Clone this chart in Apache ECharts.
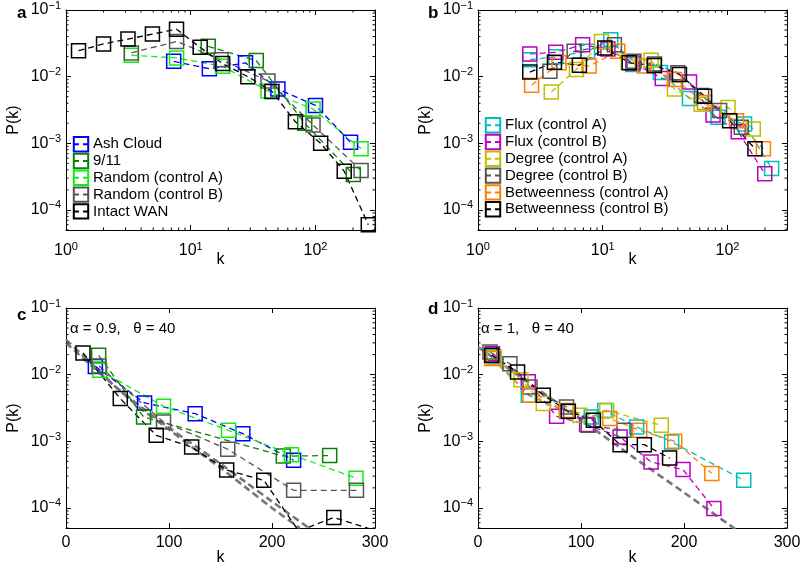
<!DOCTYPE html>
<html>
<head>
<meta charset="utf-8">
<script src="https://cdn.jsdelivr.net/npm/echarts@6/dist/echarts.min.js"></script>
<style>
html, body { margin: 0; padding: 0; background: #fff; }
#main { width: 803px; height: 569px; }
</style>
</head>
<body>
<div id="main"></div>
<script>
// ---- panel a : degree distributions, log-log ----
var aAshK = [7.3, 14.1, 27.5, 50, 100, 191];
var aAshP = [0.017, 0.0131, 0.0161, 0.0065, 0.0037, 0.00104];
var a911K = [13.8, 33.5, 82, 201];
var a911P = [0.0285, 0.0174, 0.002, 0.00034];
var aRandAK = [3.34, 7.7, 18, 41.6, 95.6, 232];
var aRandAP = [0.021, 0.0191, 0.0143, 0.0061, 0.00326, 0.00083];
var aRandBK = [3.34, 7.7, 17.5, 41.6, 95.6, 232];
var aRandBP = [0.0227, 0.0338, 0.018, 0.0086, 0.00188, 0.00039];
var aWanK = [1.26, 2.0, 3.14, 4.93, 7.69, 11.9, 18.0, 28.7, 44.8, 69, 110, 170, 265];
var aWanP = [0.0245, 0.031, 0.0366, 0.0435, 0.0516, 0.0275, 0.0157, 0.010, 0.006, 0.0021, 0.001, 0.00038, 0.00006];

// ---- panel b ----
var bFluxAK = [2.6, 4.2, 7.55, 11.6, 17.4, 29, 49.6, 84, 137, 226];
var bFluxAP = [0.018, 0.0198, 0.024, 0.0358, 0.0152, 0.0115, 0.0047, 0.00245, 0.00195, 0.00042];
var bFluxBK = [2.6, 4.2, 6.9, 11, 17.5, 30, 49.6, 76.6, 122, 199];
var bFluxBP = [0.0219, 0.0232, 0.030, 0.026, 0.016, 0.0094, 0.0083, 0.00265, 0.00149, 0.00035];
var bDegAK = [3.87, 6.15, 9.78, 16, 24.4, 37.6, 61.6, 101, 161];
var bDegAP = [0.0059, 0.0128, 0.0337, 0.0165, 0.0176, 0.0065, 0.00386, 0.00344, 0.00164];
var bDegBK = [3.77, 5.9, 12.4, 17.8, 26, 40, 62, 86.5, 129];
var bDegBP = [0.0121, 0.024, 0.030, 0.017, 0.0155, 0.0114, 0.0052, 0.0031, 0.00174];
var bBetAK = [2.69, 4.46, 7.78, 13.2, 21.5, 37.6, 65.5, 118, 194];
var bBetAP = [0.0074, 0.0161, 0.0144, 0.024, 0.0144, 0.0091, 0.0041, 0.00218, 0.00083];
var bBetBK = [2.6, 4.1, 6.5, 10.4, 16.3, 25.9, 41.2, 65.5, 104, 166];
var bBetBP = [0.0117, 0.0164, 0.0148, 0.0269, 0.0161, 0.0147, 0.0108, 0.0051, 0.00218, 0.00083];

// ---- panel c : semi-log ----
var cAshK = [28.5, 76.3, 125.4, 171.7, 221];
var cAshP = [0.0133, 0.00376, 0.0026, 0.0013, 0.00052];
var c911K = [31.7, 75.3, 211, 256];
var c911P = [0.0195, 0.00232, 0.0006, 0.00061];
var cRandAK = [32.7, 94.7, 157.8, 219, 281.6];
var cRandAP = [0.0116, 0.00335, 0.00146, 0.00063, 0.00028];
var cRandBK = [32, 94.7, 157, 221, 282];
var cRandBP = [0.0135, 0.00195, 0.00076, 0.000184, 0.000184];
var cWanK = [16.5, 52.7, 87.6, 122, 156, 192, 226, 260, 300];
var cWanP = [0.0211, 0.00437, 0.00123, 0.00082, 0.00037, 0.00026, 0.000045, 0.000072, 0.000046];
var cFit1K = [0, 25, 50, 75, 100, 125, 150, 175, 200, 227];
var cFit1P = [0.0335, 0.0145, 0.0062, 0.0029, 0.0015, 0.00076, 0.0004, 0.0002, 0.0001, 0.00005];
var cFit2K = [0, 25, 50, 75, 100, 125, 150, 175, 200, 240];
var cFit2P = [0.030, 0.0135, 0.0062, 0.0031, 0.0016, 0.00086, 0.00046, 0.00024, 0.000125, 0.000045];

// ---- panel d ----
var dFluxAK = [15, 48.8, 86, 110, 123, 154, 188, 258];
var dFluxAP = [0.0185, 0.0049, 0.0028, 0.00232, 0.0029, 0.00164, 0.00098, 0.00026];
var dFluxBK = [14, 48.8, 76.3, 105.4, 138, 168, 199, 229];
var dFluxBP = [0.0205, 0.0078, 0.00237, 0.00178, 0.00116, 0.00049, 0.000376, 0.000098];
var dDegAK = [16, 41.7, 63.4, 99, 125, 178];
var dDegAP = [0.018, 0.0084, 0.0037, 0.00245, 0.0029, 0.00174];
var dDegBK = [11.6, 31, 50.5, 86, 107, 141.7];
var dDegBP = [0.0219, 0.0146, 0.0065, 0.00327, 0.00174, 0.00146];
var dBetAK = [13.2, 50.5, 86, 128, 157, 191, 227];
var dBetAP = [0.0174, 0.0049, 0.0029, 0.00219, 0.00146, 0.001, 0.00033];
var dBetBK = [13.2, 38.4, 63.4, 87.7, 112, 138, 161.5, 186];
var dBetBP = [0.0195, 0.011, 0.0049, 0.00282, 0.00207, 0.00089, 0.00089, 0.00056];
var dFitK = [0, 50, 100, 150, 200, 250];
var dFitP = [0.026, 0.0074, 0.0021, 0.00059, 0.00017, 0.000048];

// minor tick positions for the log axes
var minorK = [2, 3, 4, 5, 6, 7, 8, 9, 20, 30, 40, 50, 60, 70, 80, 90, 200, 300];
var minorP = [0.00005, 0.00006, 0.00007, 0.00008, 0.00009,
  0.0002, 0.0003, 0.0004, 0.0005, 0.0006, 0.0007, 0.0008, 0.0009,
  0.002, 0.003, 0.004, 0.005, 0.006, 0.007, 0.008, 0.009,
  0.02, 0.03, 0.04, 0.05, 0.06, 0.07, 0.08, 0.09];

var FONT = "'Liberation Sans', Arial, Helvetica, sans-serif";
var cBlue = '#0000ff', cDkGreen = '#0b800b', cGreen = '#11ee11', cGray = '#555555', cBlack = '#000000';
var cCyan = '#00bfbf', cMag = '#bf00bf', cOlive = '#bfbf00', cOrange = '#ff8000', cFit = '#777777';

var myChart = echarts.init(document.getElementById('main'));

function pts(k, p) {
    return k.map(function (v, i) { return [v, p[i]]; });
}

function supLabel(v) {
    var e = Math.round(Math.log(v) / Math.LN10);
    var s = e < 0 ? '\u2212' + (-e) : '' + e;
    return '{b|10}{s|' + s + '}';
}

var rich = {
    b: { fontSize: 16, lineHeight: 20, color: '#000', fontFamily: FONT },
    s: { fontSize: 11, lineHeight: 8, verticalAlign: 'top', color: '#000', fontFamily: FONT }
};

var grids = [
    { left: 66, top: 10, width: 309, height: 220 },
    { left: 478, top: 10, width: 309, height: 220 },
    { left: 66, top: 308, width: 309, height: 220 },
    { left: 478, top: 308, width: 309, height: 220 }
];
grids.forEach(function (g) { g.outerBoundsMode = 'none'; g.containLabel = false; });

function axisBase(pos, showLabel) {
    return {
        position: pos,
        axisLine: { show: true, onZero: false, lineStyle: { color: '#000', width: 1 } },
        axisTick: { show: true, inside: true, length: 5, lineStyle: { color: '#000', width: 1 } },
        splitLine: { show: false },
        minorTick: { show: false },
        axisLabel: { show: showLabel },
        nameMoveOverlap: false,
        nameTextStyle: { fontSize: 16, color: '#000', fontFamily: FONT }
    };
}

var xAxes = [], yAxes = [];
[0, 1, 2, 3].forEach(function (g) {
    var isLog = g < 2;
    ['bottom', 'top'].forEach(function (pos) {
        var ax = axisBase(pos, pos === 'bottom');
        ax.gridIndex = g;
        if (isLog) {
            ax.type = 'log'; ax.logBase = 10; ax.min = 1; ax.max = 300;
            ax.axisLabel = { show: pos === 'bottom', margin: 11, formatter: supLabel, rich: rich, showMaxLabel: false };
        } else {
            ax.type = 'value'; ax.min = 0; ax.max = 300; ax.interval = 100;
            ax.axisLabel = { show: pos === 'bottom', margin: 7, fontSize: 16, color: '#000', fontFamily: FONT };
        }
        if (pos === 'bottom') {
            ax.name = 'k'; ax.nameLocation = 'middle'; ax.nameGap = 22;
        }
        xAxes.push(ax);
    });
    ['left', 'right'].forEach(function (pos) {
        var ay = axisBase(pos, pos === 'left');
        ay.gridIndex = g;
        ay.type = 'log'; ay.logBase = 10; ay.min = 0.00005; ay.max = 0.1;
        ay.axisLabel = { show: pos === 'left', margin: 5, formatter: supLabel, rich: rich, showMinLabel: false };
        if (pos === 'left') {
            ay.name = 'P(k)'; ay.nameLocation = 'middle'; ay.nameGap = 44;
        }
        yAxes.push(ay);
    });
});

function line(name, g, k, p, color) {
    return {
        type: 'line', name: name, xAxisIndex: 2 * g, yAxisIndex: 2 * g,
        data: pts(k, p), symbol: 'rect', symbolSize: 14, showSymbol: true, clip: true,
        itemStyle: { color: 'rgba(0,0,0,0)', borderColor: color, borderWidth: 1.5 },
        lineStyle: { color: color, width: 1.3, type: [6, 4] },
        emphasis: { disabled: true }
    };
}

function fit(g, k, p) {
    return {
        type: 'line', name: 'fit', xAxisIndex: 2 * g, yAxisIndex: 2 * g,
        data: pts(k, p), symbol: 'none', clip: true, smooth: 0.3,
        lineStyle: { color: cFit, width: 2.6, type: [7, 4] },
        emphasis: { disabled: true }, z: 1
    };
}

function minorXTicks(g) {
    return {
        type: 'custom', xAxisIndex: 2 * g, yAxisIndex: 2 * g, silent: true, clip: false,
        data: minorK.map(function (v) { return [v, 0.01]; }),
        encode: { x: 0, y: 1 },
        renderItem: function (params, api) {
            var cs = params.coordSys;
            var x = api.coord([api.value(0), 0.01])[0];
            var st = { stroke: '#000', lineWidth: 1 };
            return { type: 'group', children: [
                { type: 'line', shape: { x1: x, y1: cs.y + cs.height, x2: x, y2: cs.y + cs.height - 2.5 }, style: st },
                { type: 'line', shape: { x1: x, y1: cs.y, x2: x, y2: cs.y + 2.5 }, style: st }
            ] };
        }
    };
}

function minorYTicks(g) {
    var xref = g < 2 ? 10 : 100;
    return {
        type: 'custom', xAxisIndex: 2 * g, yAxisIndex: 2 * g, silent: true, clip: false,
        data: minorP.map(function (v) { return [xref, v]; }),
        encode: { x: 0, y: 1 },
        renderItem: function (params, api) {
            var cs = params.coordSys;
            var y = api.coord([xref, api.value(1)])[1];
            var st = { stroke: '#000', lineWidth: 1 };
            return { type: 'group', children: [
                { type: 'line', shape: { x1: cs.x, y1: y, x2: cs.x + 2.5, y2: y }, style: st },
                { type: 'line', shape: { x1: cs.x + cs.width, y1: y, x2: cs.x + cs.width - 2.5, y2: y }, style: st }
            ] };
        }
    };
}

var series = [
    minorXTicks(0), minorXTicks(1),
    minorYTicks(0), minorYTicks(1), minorYTicks(2), minorYTicks(3),

    line('Ash Cloud', 0, aAshK, aAshP, cBlue),
    line('9/11', 0, a911K, a911P, cDkGreen),
    line('Random (control A)', 0, aRandAK, aRandAP, cGreen),
    line('Random (control B)', 0, aRandBK, aRandBP, cGray),
    line('Intact WAN', 0, aWanK, aWanP, cBlack),

    line('Flux (control A)', 1, bFluxAK, bFluxAP, cCyan),
    line('Flux (control B)', 1, bFluxBK, bFluxBP, cMag),
    line('Degree (control A)', 1, bDegAK, bDegAP, cOlive),
    line('Degree (control B)', 1, bDegBK, bDegBP, cGray),
    line('Betweenness (control A)', 1, bBetAK, bBetAP, cOrange),
    line('Betweenness (control B)', 1, bBetBK, bBetBP, cBlack),

    fit(2, cFit1K, cFit1P),
    fit(2, cFit2K, cFit2P),
    line('Ash Cloud', 2, cAshK, cAshP, cBlue),
    line('9/11', 2, c911K, c911P, cDkGreen),
    line('Random (control A)', 2, cRandAK, cRandAP, cGreen),
    line('Random (control B)', 2, cRandBK, cRandBP, cGray),
    line('Intact WAN', 2, cWanK, cWanP, cBlack),

    fit(3, dFitK, dFitP),
    line('Flux (control A)', 3, dFluxAK, dFluxAP, cCyan),
    line('Flux (control B)', 3, dFluxBK, dFluxBP, cMag),
    line('Degree (control A)', 3, dDegAK, dDegAP, cOlive),
    line('Degree (control B)', 3, dDegBK, dDegBP, cGray),
    line('Betweenness (control A)', 3, dBetAK, dBetAP, cOrange),
    line('Betweenness (control B)', 3, dBetBK, dBetBP, cBlack)
];

function legend(left, top, names) {
    return {
        left: left, top: top, orient: 'vertical', data: names,
        itemWidth: 16, itemHeight: 18, itemGap: 0.4, padding: 0,
        selectedMode: false,
        textStyle: { fontSize: 15, color: '#000', fontFamily: FONT, padding: [0, 0, 0, -1] }
    };
}

function label(x, y, text, size, bold) {
    return {
        type: 'text', x: x, y: y,
        style: { text: text, fontSize: size, fontWeight: bold ? 'bold' : 'normal',
                 fontFamily: FONT, fill: '#000', verticalAlign: 'middle' }
    };
}

option = {
    animation: false,
    backgroundColor: '#fff',
    grid: grids,
    xAxis: xAxes,
    yAxis: yAxes,
    legend: [
        legend(72, 136, ['Ash Cloud', '9/11', 'Random (control A)', 'Random (control B)', 'Intact WAN']),
        legend(484, 117, ['Flux (control A)', 'Flux (control B)', 'Degree (control A)',
                          'Degree (control B)', 'Betweenness (control A)', 'Betweenness (control B)'])
    ],
    graphic: [
        label(17, 13, 'a', 17, true),
        label(428, 13, 'b', 17, true),
        label(17, 315, 'c', 17, true),
        label(428, 309, 'd', 17, true),
        label(70, 329, '\u03b1 = 0.9,   \u03b8 = 40', 15, false),
        label(481, 329, '\u03b1 = 1,   \u03b8 = 40', 15, false)
    ],
    series: series
};

myChart.setOption(option);
</script>
</body>
</html>
